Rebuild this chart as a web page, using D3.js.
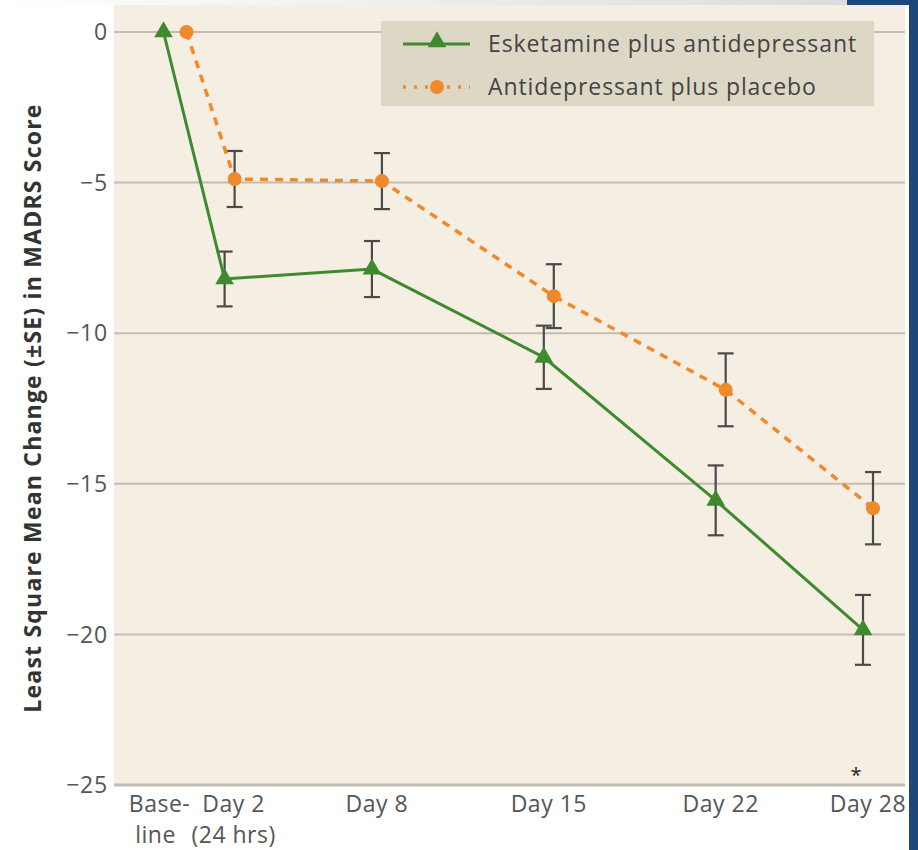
<!DOCTYPE html>
<html>
<head>
<meta charset="utf-8">
<script src="https://cdn.jsdelivr.net/npm/d3@7"></script>
<style>
  body { margin: 0; background: #ffffff; }
  svg text { font-family: "Open Sans", "Noto Sans", sans-serif; }
</style>
</head>
<body>
<svg id="chart" width="918" height="850"></svg>
<script>
// visit days (baseline = day 0)
const days = [0, 2, 8, 15, 22, 28];
const dayLabels = [["Base-", "line"], ["Day 2", "(24 hrs)"], ["Day 8"], ["Day 15"], ["Day 22"], ["Day 28"]];

// least square mean change and SE
const eskMean = [0, -8.2, -7.87, -10.8, -15.55, -19.85];
const eskSE = [0, 0.91, 0.93, 1.05, 1.16, 1.16];
const pboMean = [0, -4.88, -4.95, -8.77, -11.88, -15.81];
const pboSE = [0, 0.93, 0.93, 1.06, 1.21, 1.2];

const seriesNames = ["Esketamine plus antidepressant", "Antidepressant plus placebo"];
const yTicks = [0, -5, -10, -15, -20, -25];

const svg = d3.select("#chart");
const W = 918, H = 850;
const plot = {left: 114, right: 905, top: 5, bottom: 786};

// decoration from the page the figure was cut from
let grad = svg.append("defs").append("linearGradient").attr("id", "topfade");
grad.append("stop").attr("offset", "0%").attr("stop-color", "#ffffff");
grad.append("stop").attr("offset", "100%").attr("stop-color", "#dcdcdc");
svg.append("rect").attr("x", 0).attr("y", 0).attr("width", 847).attr("height", plot.top).attr("fill", "url(#topfade)");

svg.append("rect")
    .attr("x", plot.left).attr("y", plot.top)
    .attr("width", plot.right - plot.left).attr("height", plot.bottom - plot.top)
    .attr("fill", "#f5eee2");

let x = d3.scaleLinear().domain([0, 28]).range([180.5, 868]);
let y = d3.scaleLinear().domain([0, -25]).range([32, 785]);

// gridlines
svg.append("g").selectAll("line")
    .data(yTicks)
    .join("line")
    .attr("x1", plot.left).attr("x2", plot.right)
    .attr("y1", d => y(d)).attr("y2", d => y(d))
    .style("stroke", "#c2bcb4")
    .style("stroke-width", d => d === -25 ? 3 : 2);

// y tick labels
svg.append("g").selectAll("text")
    .data(yTicks)
    .join("text")
    .attr("x", 108)
    .attr("y", d => y(d))
    .attr("dy", "0.36em")
    .attr("text-anchor", "end")
    .style("font-size", "23px")
    .style("letter-spacing", "0.8px")
    .style("fill", "#555")
    .text(d => d === 0 ? "0" : "\u2212" + Math.abs(d));

// x tick labels
let xl = svg.append("g").selectAll("g")
    .data(days)
    .join("g")
    .attr("transform", (d, i) => "translate(" + (x(d) + (i === 0 ? -21 : i === 1 ? 4 : 0)) + ",0)");
xl.selectAll("text")
    .data((d, i) => dayLabels[i])
    .join("text")
    .attr("x", t => t === "line" ? -4 : 0)
    .attr("y", (t, j) => 812 + j * 31)
    .attr("text-anchor", "middle")
    .style("font-size", "23px")
    .style("letter-spacing", "0.5px")
    .style("fill", "#555")
    .text(t => t);

// y axis title
svg.append("text")
    .attr("transform", "translate(41,408) rotate(-90)")
    .attr("text-anchor", "middle")
    .style("font-size", "23px")
    .style("letter-spacing", "1.2px")
    .style("font-weight", "bold")
    .style("fill", "#333")
    .text("Least Square Mean Change (\u00b1SE) in MADRS Score");

const green = "#3f8a2f", orange = "#f0892a";
// small horizontal dodge so markers don't overlap
const eskDx = days.map((d, i) => i === 0 ? -17 : -5);
const pboDx = days.map((d, i) => i === 0 ? 6 : 5);

function errorBars(mean, se, dx) {
    let g = svg.append("g").style("stroke", "#4a4a4a").style("stroke-width", 2.2);
    days.forEach(function (d, i) {
        if (se[i] === 0) return;
        let cx = x(d) + dx[i];
        g.append("line").attr("x1", cx).attr("x2", cx).attr("y1", y(mean[i] + se[i])).attr("y2", y(mean[i] - se[i]));
        g.append("line").attr("x1", cx - 8).attr("x2", cx + 8).attr("y1", y(mean[i] + se[i])).attr("y2", y(mean[i] + se[i]));
        g.append("line").attr("x1", cx - 8).attr("x2", cx + 8).attr("y1", y(mean[i] - se[i])).attr("y2", y(mean[i] - se[i]));
    });
}
errorBars(eskMean, eskSE, eskDx);
errorBars(pboMean, pboSE, pboDx);

let line = d3.line().x(d => d[0]).y(d => d[1]);
let eskPts = days.map((d, i) => [x(d) + eskDx[i], y(eskMean[i])]);
let pboPts = days.map((d, i) => [x(d) + pboDx[i], y(pboMean[i])]);

svg.append("path").attr("d", line(pboPts))
    .style("fill", "none").style("stroke", orange).style("stroke-width", 3.5)
    .style("stroke-dasharray", "8,7");
svg.append("g").selectAll("circle")
    .data(pboPts).join("circle")
    .attr("cx", d => d[0]).attr("cy", d => d[1]).attr("r", 7)
    .style("fill", orange);

svg.append("path").attr("d", line(eskPts))
    .style("fill", "none").style("stroke", green).style("stroke-width", 3);
let tri = d3.symbol().type(d3.symbolTriangle).size(150);
svg.append("g").selectAll("path")
    .data(eskPts).join("path")
    .attr("d", tri)
    .attr("transform", d => "translate(" + d[0] + "," + d[1] + ")")
    .style("fill", green);

// significance marker
svg.append("text")
    .attr("x", x(28) - 12).attr("y", 782)
    .attr("text-anchor", "middle")
    .style("font-size", "20px").style("fill", "#222")
    .text("*");

// legend
let lg = svg.append("g");
lg.append("rect").attr("x", 381).attr("y", 21).attr("width", 493).attr("height", 85).attr("fill", "#ddd8c6");
lg.append("line").attr("x1", 403).attr("x2", 470).attr("y1", 44).attr("y2", 44)
    .style("stroke", green).style("stroke-width", 3);
lg.append("path").attr("d", tri).attr("transform", "translate(437,42)").style("fill", green);
lg.append("line").attr("x1", 403).attr("x2", 470).attr("y1", 87).attr("y2", 87)
    .style("stroke", orange).style("stroke-width", 3.5).style("stroke-dasharray", "3,8");
lg.append("circle").attr("cx", 437).attr("cy", 87).attr("r", 7).style("fill", orange);
lg.selectAll("text.lab")
    .data(seriesNames).join("text")
    .attr("class", "lab")
    .attr("x", 488).attr("y", (d, i) => 44 + i * 43)
    .attr("dy", "0.36em")
    .style("font-size", "23px")
    .style("letter-spacing", "0.9px")
    .style("fill", "#444")
    .text(d => d);

// blue page border on the right, drawn last so it cuts off "Day 28"
svg.append("rect").attr("x", 847).attr("y", 0).attr("width", W - 847).attr("height", plot.top).attr("fill", "#1f477a");
svg.append("rect").attr("x", 909).attr("y", 0).attr("width", W - 909).attr("height", H).attr("fill", "#1f477a");
</script>
</body>
</html>
